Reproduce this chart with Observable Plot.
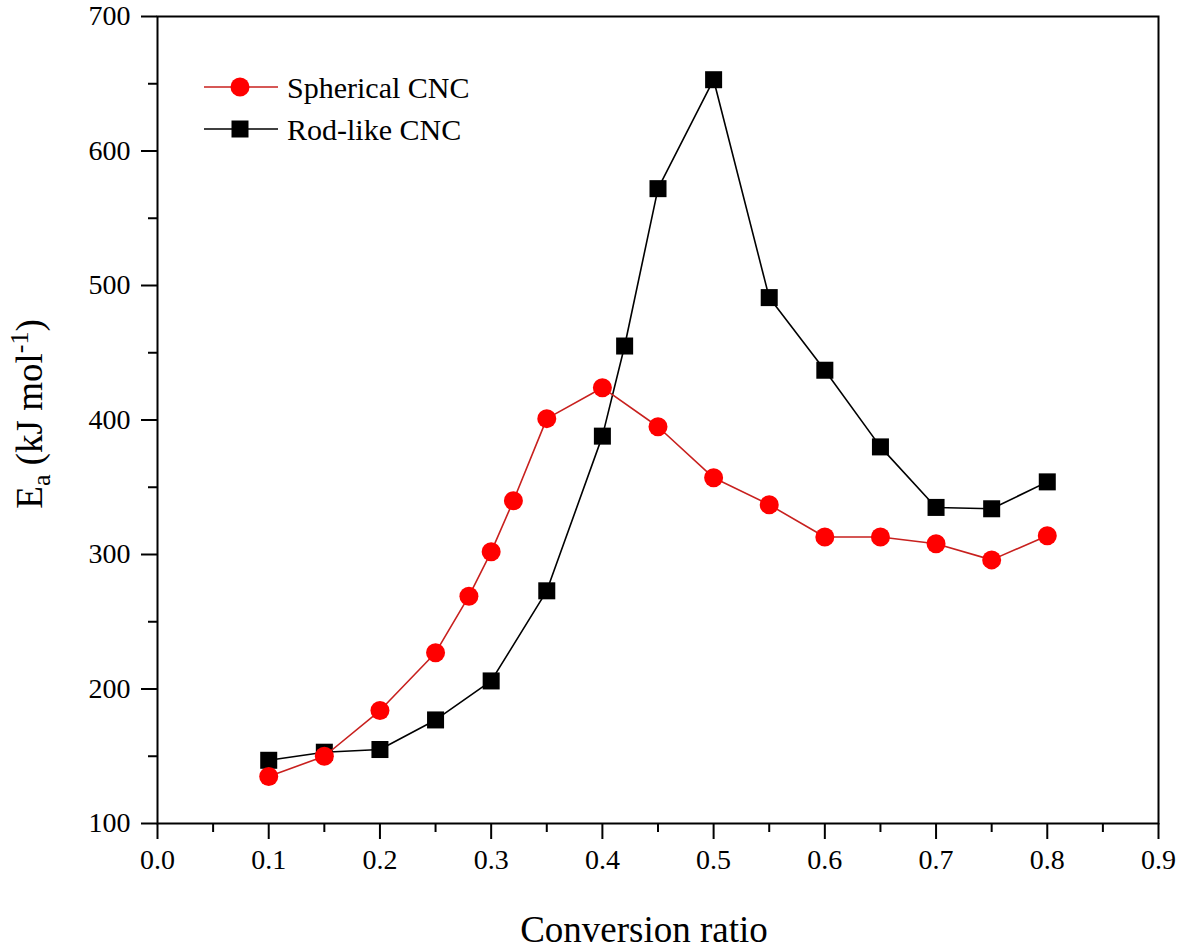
<!DOCTYPE html>
<html>
<head>
<meta charset="utf-8">
<script src="https://cdn.jsdelivr.net/npm/d3@7"></script>
<script src="https://cdn.jsdelivr.net/npm/@observablehq/plot@0.6"></script>
<style>
  html, body { margin: 0; padding: 0; background: #fff; }
  #chart svg { display: block; }
</style>
</head>
<body>
<div id="chart"></div>
<script>
// Spherical CNC (red circles)
const xSpherical = [0.1, 0.15, 0.2, 0.25, 0.28, 0.3, 0.32, 0.35, 0.4, 0.45, 0.5, 0.55, 0.6, 0.65, 0.7, 0.75, 0.8];
const ySpherical = [135, 150, 184, 227, 269, 302, 340, 401, 424, 395, 357, 337, 313, 313, 308, 296, 314];
// Rod-like CNC (black squares)
const xRod = [0.1, 0.15, 0.2, 0.25, 0.3, 0.35, 0.4, 0.42, 0.45, 0.5, 0.55, 0.6, 0.65, 0.7, 0.75, 0.8];
const yRod = [147, 153, 155, 177, 206, 273, 388, 455, 572, 653, 491, 437, 380, 335, 334, 354];

const seriesNames = ["Spherical CNC", "Rod-like CNC"];
const xTicksMajor = [0, 0.1, 0.2, 0.3, 0.4, 0.5, 0.6, 0.7, 0.8, 0.9];
const xTicksMinor = [0.05, 0.15, 0.25, 0.35, 0.45, 0.55, 0.65, 0.75, 0.85];
const yTicksMajor = [100, 200, 300, 400, 500, 600, 700];
const yTicksMinor = [150, 250, 350, 450, 550, 650];
const xLabel = "Conversion ratio";

const sph = xSpherical.map((x, i) => ({x, y: ySpherical[i]}));
const rod = xRod.map((x, i) => ({x, y: yRod[i]}));

const FONT = "'Liberation Serif', 'Times New Roman', serif";
const RED_LINE = "#c8201e";
const RED_FILL = "#ff0000";

const plot = Plot.plot({
  width: 1180,
  height: 949,
  marginLeft: 157,
  marginRight: 22,
  marginTop: 16,
  marginBottom: 126,
  style: {fontFamily: FONT, color: "#000", background: "#fff"},
  x: {domain: [0, 0.9]},
  y: {domain: [100, 700]},
  marks: [
    Plot.axisX(xTicksMajor, {tickSize: 16, tickPadding: 10, strokeWidth: 2, tickFormat: d3.format(".1f"), label: null}),
    Plot.axisX(xTicksMinor, {tickSize: 9, strokeWidth: 2, text: null, label: null}),
    Plot.axisY(yTicksMajor, {tickSize: 16, tickPadding: 11, strokeWidth: 2, tickFormat: d3.format("d"), label: null}),
    Plot.axisY(yTicksMinor, {tickSize: 9, strokeWidth: 2, text: null, label: null}),
    Plot.frame({strokeWidth: 2, stroke: "#000"}),
    Plot.line(rod, {x: "x", y: "y", stroke: "#000", strokeWidth: 1.6}),
    Plot.dot(rod, {x: "x", y: "y", symbol: "square", r: 9.6, fill: "#000", stroke: "none"}),
    Plot.line(sph, {x: "x", y: "y", stroke: RED_LINE, strokeWidth: 1.6}),
    Plot.dot(sph, {x: "x", y: "y", symbol: "circle", r: 9.5, fill: RED_FILL, stroke: "none"})
  ]
});

document.getElementById("chart").appendChild(plot);

const svg = d3.select(plot);
// make the library's tick labels large serif text
svg.selectAll("text").each(function() {
  this.style.fontSize = "28px";
  this.style.fontFamily = FONT;
  this.style.fill = "#000";
});

// Legend
const legend = svg.append("g").attr("text-anchor", "start");
const legendRows = [
  {name: seriesNames[0], line: RED_LINE, fill: RED_FILL, symbol: d3.symbolCircle, size: Math.PI * 9.5 * 9.5, y: 87},
  {name: seriesNames[1], line: "#000", fill: "#000", symbol: d3.symbolSquare, size: 17 * 17, y: 129}
];
for (const r of legendRows) {
  legend.append("line").attr("x1", 204).attr("x2", 278).attr("y1", r.y).attr("y2", r.y)
    .attr("stroke", r.line).attr("stroke-width", 1.6);
  legend.append("path").attr("d", d3.symbol(r.symbol, r.size)()).attr("transform", `translate(240,${r.y})`)
    .attr("fill", r.fill);
  legend.append("text").attr("x", 287).attr("y", r.y).attr("dy", "0.35em").attr("fill", "#000")
    .attr("text-anchor", "start").style("font-size", "30px").style("font-family", FONT).text(r.name);
}

// X axis title
svg.append("text").attr("x", 644).attr("y", 942).attr("text-anchor", "middle")
  .style("font-family", FONT).style("font-size", "37px").attr("fill", "#000").text(xLabel);

// Y axis title with subscript and superscript
const yt = svg.append("text").attr("transform", "translate(42,414) rotate(-90)").attr("text-anchor", "middle")
  .style("font-family", FONT).style("font-size", "37px").attr("fill", "#000");
yt.append("tspan").text("E");
yt.append("tspan").style("font-size", "26px").attr("dy", 8).text("a");
yt.append("tspan").attr("dy", -8).text(" (kJ mol");
yt.append("tspan").style("font-size", "26px").attr("dy", -14).text("-1");
yt.append("tspan").attr("dy", 14).text(")");
</script>
</body>
</html>
